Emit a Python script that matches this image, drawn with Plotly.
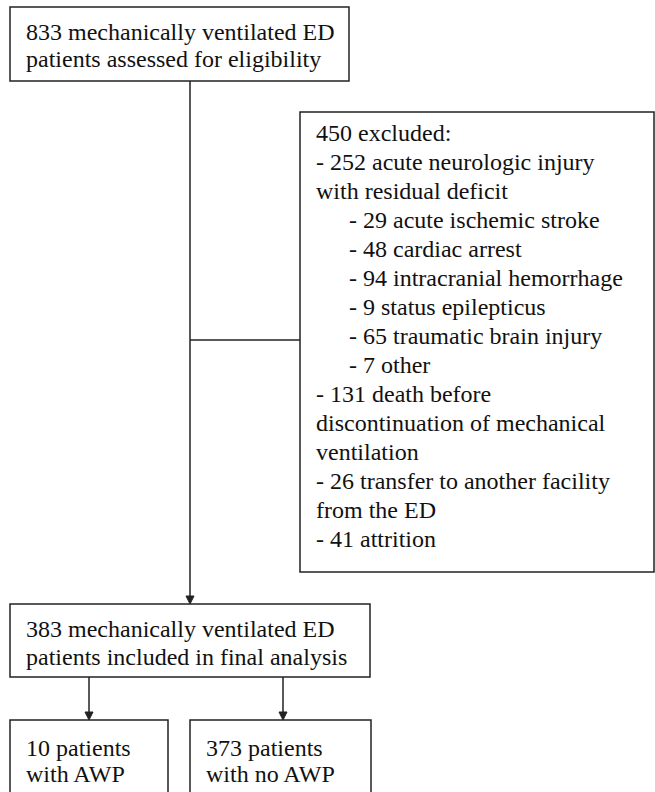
import plotly.graph_objects as go

# ---- text content (data) ----
top_lines = ["833 mechanically ventilated ED", "patients assessed for eligibility"]
excl_lines = [
    "450 excluded:",
    "- 252 acute neurologic injury",
    "with residual deficit",
    "- 29 acute ischemic stroke",
    "- 48 cardiac arrest",
    "- 94 intracranial hemorrhage",
    "- 9 status epilepticus",
    "- 65 traumatic brain injury",
    "- 7 other",
    "- 131 death before",
    "discontinuation of mechanical",
    "ventilation",
    "- 26 transfer to another facility",
    "from the ED",
    "- 41 attrition",
]
excl_indent = [0, 0, 0, 1, 1, 1, 1, 1, 1, 0, 0, 0, 0, 0, 0]
final_lines = ["383 mechanically ventilated ED", "patients included in final analysis"]
awp_lines = ["10 patients", "with AWP"]
noawp_lines = ["373 patients", "with no AWP"]

# ---- layout geometry (page pixel coordinates, y downward) ----
PAGE_W, PAGE_H = 655, 792
FAMILY = "Liberation Serif, Times New Roman, Times, serif"
FONT = dict(family=FAMILY, size=24, color="#111")
LINE = dict(color="#222", width=1.5)

boxes = [
    (10, 7, 349, 81),      # top
    (300, 112, 654, 572),  # excluded
    (10, 604, 370, 677),   # final
    (10, 720, 168, 800),   # AWP
    (190, 720, 371, 800),  # no AWP
]

shapes = []
for x0, y0, x1, y1 in boxes:
    shapes.append(dict(type="rect", xref="x", yref="y", x0=x0, y0=y0, x1=x1, y1=y1,
                       line=LINE, fillcolor="rgba(0,0,0,0)"))

def seg(x0, y0, x1, y1):
    shapes.append(dict(type="line", xref="x", yref="y", x0=x0, y0=y0, x1=x1, y1=y1, line=LINE))

def arrow(x, y0, y1):
    seg(x, y0, x, y1 - 6)
    shapes.append(dict(type="path", xref="x", yref="y",
                       path=f"M {x-4},{y1-8} L {x+4},{y1-8} L {x},{y1} Z",
                       fillcolor="#222", line=dict(color="#222", width=1)))

arrow(190, 81, 604)
seg(190, 340, 300, 340)
arrow(89, 677, 720)
arrow(283, 677, 720)

annotations = []
def add_lines(lines, x, y_first, step, indents=None):
    for i, t in enumerate(lines):
        xi = x + (33 if indents and indents[i] else 0)
        annotations.append(dict(x=xi, y=y_first + i * step, xref="x", yref="y", text=t,
                                showarrow=False, xanchor="left", yanchor="middle",
                                font=FONT))

add_lines(top_lines, 24, 32, 27)
add_lines(excl_lines, 314, 133, 29, excl_indent)
add_lines(final_lines, 24, 629, 28)
add_lines(awp_lines, 24, 748, 26)
add_lines(noawp_lines, 204, 748, 26)

fig = go.Figure()
fig.update_layout(
    template="none",
    font=dict(family=FAMILY, size=24, color="#111"),
    width=PAGE_W, height=PAGE_H, margin=dict(l=0, r=0, t=0, b=0),
    paper_bgcolor="white", plot_bgcolor="white",
    xaxis=dict(range=[0, PAGE_W], visible=False, fixedrange=True),
    yaxis=dict(range=[PAGE_H, 0], visible=False, fixedrange=True),
    shapes=shapes, annotations=annotations, showlegend=False,
)
fig.write_html("out.html", config={"displayModeBar": False},
               post_script="document.body.style.margin='0';document.body.style.overflow='hidden';")
